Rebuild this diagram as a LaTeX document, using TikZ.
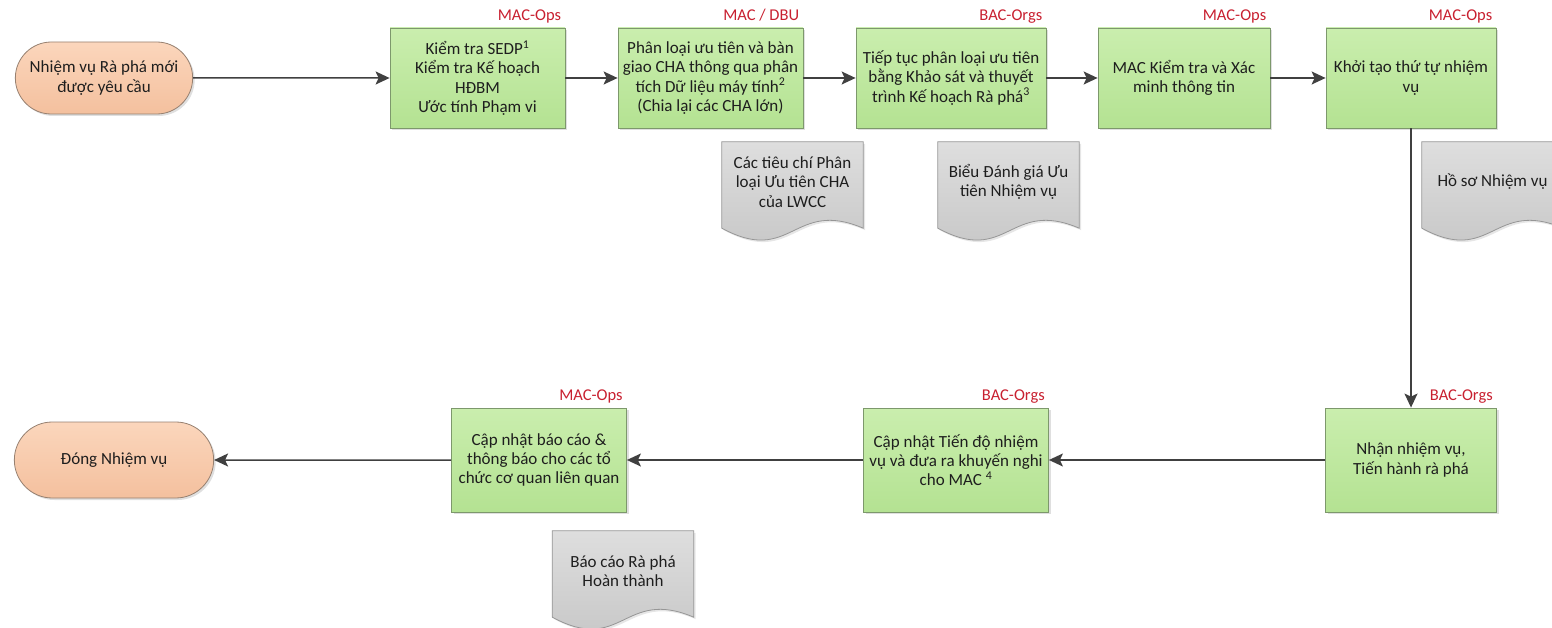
\documentclass[tikz,border=0pt]{standalone}
\usepackage{fontspec}
\setmainfont{Carlito}
\usepackage{tikz}
\usetikzlibrary{shapes.misc, arrows.meta, shadows, backgrounds}

\definecolor{termTop}{RGB}{251,214,188}
\definecolor{termBottom}{RGB}{244,192,158}
\definecolor{termLine}{RGB}{150,128,112}
\definecolor{boxTop}{RGB}{202,238,174}
\definecolor{boxBottom}{RGB}{180,226,146}
\definecolor{boxLine}{RGB}{125,152,108}
\definecolor{docTop}{RGB}{222,222,222}
\definecolor{docBottom}{RGB}{196,196,196}
\definecolor{docLine}{RGB}{150,150,150}
\definecolor{orgRed}{RGB}{200,32,48}
\definecolor{arrowGray}{RGB}{64,64,64}
\definecolor{textDark}{RGB}{30,30,30}

\begin{document}
\begin{tikzpicture}[node distance=233pt, font=\fontsize{17pt}{19.3pt}\selectfont]
	\tikzstyle{terminal} = [rounded rectangle, minimum width=184pt, minimum height=72pt, 
	align=center, text=textDark, draw=termLine, line width=0.8pt, top color=termTop, 
	bottom color=termBottom, drop shadow={shadow xshift=2pt, shadow yshift=-2pt, opacity=0.25}]
	\tikzstyle{box} = [rectangle, minimum width=172pt, minimum height=100pt, align=center, 
	text=textDark, draw=boxLine, line width=0.8pt, top color=boxTop, bottom color=boxBottom, 
	drop shadow={shadow xshift=2pt, shadow yshift=-2pt, opacity=0.25}]
	\tikzstyle{doc} = [minimum width=141pt, minimum height=80pt, inner sep=0pt, align=center, 
	text=textDark]
	\tikzstyle{docshape} = [draw=docLine, line width=0.8pt, top color=docTop, 
	bottom color=docBottom, drop shadow={shadow xshift=2pt, shadow yshift=-2pt, opacity=0.2}]
	\tikzstyle{org} = [anchor=base east, inner sep=0pt, text=orgRed, xshift=-4pt, yshift=7pt, 
	font=\fontsize{16.5pt}{19pt}\selectfont]
	\tikzstyle{arrow} = [line width=1.5pt, draw=arrowGray, 
	-{Stealth[length=14pt, width=13pt, inset=3pt]}]
	\useasboundingbox (-104pt,78pt) rectangle (1448pt,-550pt);
	\node (newTask) [terminal] {Nhiệm vụ Rà phá mới\\được yêu cầu};
	\node (checkPlan) [box, minimum width=175pt, right of=newTask, xshift=140.5pt] 
	{Kiểm tra SEDP\textsuperscript{1}\\Kiểm tra Kế hoạch\\HĐBM\\Ước tính Phạm vi};
	\node (triageCha) [box, minimum width=185pt, right of=checkPlan] 
	{Phân loại ưu tiên và bàn\\giao CHA thông qua phân\\tích Dữ liệu máy tính\textsuperscript{2}\\(Chia lại các CHA lớn)};
	\node (surveyCha) [box, minimum width=190pt, right of=triageCha, xshift=7.5pt] 
	{Tiếp tục phân loại ưu tiên\\bằng Khảo sát và thuyết\\trình Kế hoạch Rà phá\textsuperscript{3}};
	\node (verifyInfo) [box, right of=surveyCha] {MAC Kiểm tra và Xác\\minh thông tin};
	\node (taskOrder) [box, minimum width=170pt, right of=verifyInfo, xshift=-6pt] 
	{Khởi tạo thứ tự nhiệm\\vụ};
	\node (clearTask) [box, minimum width=171pt, minimum height=104pt, node distance=382pt, 
	below of=taskOrder] {Nhận nhiệm vụ,\\Tiến hành rà phá};
	\node (updateProgress) [box, minimum width=185pt, minimum height=104pt, left of=clearTask, 
	xshift=-222pt] {Cập nhật Tiến độ nhiệm\\vụ và đưa ra khuyến nghi\\cho MAC \textsuperscript{4}};
	\node (updateReport) [box, minimum width=175pt, minimum height=104pt, left of=updateProgress, 
	xshift=-184pt] {Cập nhật báo cáo \&\\thông báo cho các tổ\\chức cơ quan liên quan};
	\node (closeTask) [terminal, minimum width=206pt, minimum height=76pt, left of=updateReport, 
	xshift=-192pt] {Đóng Nhiệm vụ};
	\node (checkPlanOrg) [org] at (checkPlan.north east) {MAC-Ops};
	\node (triageChaOrg) [org] at (triageCha.north east) {MAC / DBU};
	\node (surveyChaOrg) [org] at (surveyCha.north east) {BAC-Orgs};
	\node (verifyInfoOrg) [org] at (verifyInfo.north east) {MAC-Ops};
	\node (taskOrderOrg) [org] at (taskOrder.north east) {MAC-Ops};
	\node (clearTaskOrg) [org] at (clearTask.north east) {BAC-Orgs};
	\node (updateProgressOrg) [org] at (updateProgress.north east) {BAC-Orgs};
	\node (updateReportOrg) [org] at (updateReport.north east) {MAC-Ops};
	\node (criteriaDoc) [doc, node distance=104pt, below of=triageCha, xshift=82pt] 
	{Các tiêu chí Phân\\loại Ưu tiên CHA\\của LWCC};
	\node (assessDoc) [doc, node distance=104pt, below of=surveyCha, xshift=57.5pt] 
	{Biểu Đánh giá Ưu\\tiên Nhiệm vụ};
	\node (taskDoc) [doc, node distance=104pt, below of=taskOrder, xshift=81.5pt] 
	{Hồ sơ Nhiệm vụ};
	\node (reportDoc) [doc, node distance=111pt, below of=updateReport, xshift=84pt] 
	{Báo cáo Rà phá\\Hoàn thành};
	\begin{scope}[on background layer]
		\foreach \d in {criteriaDoc,assessDoc,taskDoc,reportDoc}
		\draw [docshape] (\d.north west) -- (\d.north east) -- ([yshift=-6pt]\d.south east) 
		.. controls ([xshift=-70pt, yshift=24pt]\d.south east) and ([xshift=70pt, yshift=-44pt]\d.south west) 
		.. ([yshift=-6pt]\d.south west) -- cycle;
	\end{scope}
	\draw [arrow] (newTask) -- (checkPlan);
	\draw [arrow] (checkPlan) -- (triageCha);
	\draw [arrow] (triageCha) -- (surveyCha);
	\draw [arrow] (surveyCha) -- (verifyInfo);
	\draw [arrow] (verifyInfo) -- (taskOrder);
	\draw [arrow] (taskOrder) -- (clearTask);
	\draw [arrow] (clearTask) -- (updateProgress);
	\draw [arrow] (updateProgress) -- (updateReport);
	\draw [arrow] (updateReport) -- (closeTask);
\end{tikzpicture}
\end{document}
